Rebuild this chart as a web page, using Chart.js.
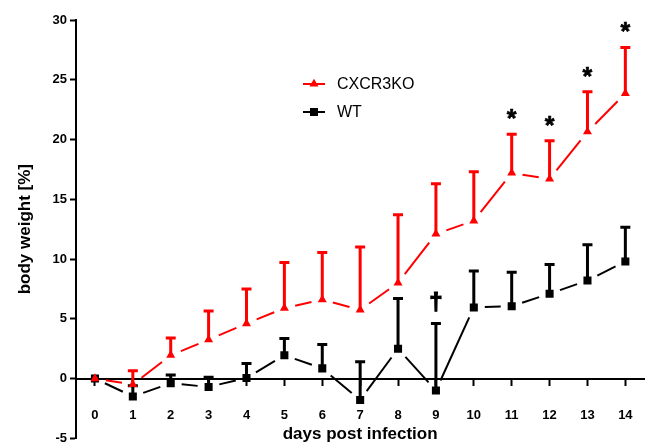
<!DOCTYPE html>
<html>
<head>
<meta charset="utf-8">
<script src="https://cdn.jsdelivr.net/npm/chart.js@4.4.1/dist/chart.umd.min.js"></script>
<style>
html,body{margin:0;padding:0;background:#fff;}
canvas{display:block;}
</style>
</head>
<body>
<canvas id="c" width="650" height="444"></canvas>
<script>
// ---- data ----
const days = [0,1,2,3,4,5,6,7,8,9,10,11,12,13,14];
const koMean = [0, -0.5, 1.95, 3.25, 4.6, 5.9, 6.6, 5.75, 8.0, 12.1, 13.2, 17.2, 16.7, 20.65, 23.85];
const koSem  = [0, 1.15, 1.45, 2.4, 2.9, 3.8, 3.95, 5.25, 5.7, 4.2, 4.1, 3.25, 3.2, 3.35, 3.85];
const wtMean = [0, -1.5, -0.4, -0.7, 0.05, 1.95, 0.85, -1.8, 2.5, -1.0, 5.95, 6.05, 7.1, 8.2, 9.8];
const wtSem  = [0, 0.9, 0.7, 0.8, 1.2, 1.4, 2.0, 3.2, 4.2, 5.6, 3.05, 2.85, 2.45, 3.0, 2.85];
const yTicks = [-5, 0, 5, 10, 15, 20, 25, 30];
const koStarDays = [11, 12, 13, 14];   // '*'
const wtDaggerDays = [9];              // '†'
const seriesNames = ['CXCR3KO', 'WT'];

const FONT = "'Liberation Sans', Arial, Helvetica, sans-serif";
const RED = '#ff0000', BLACK = '#000000';

function toPoints(mean) { return days.map((d, i) => ({x: d, y: mean[i]})); }

function drawMarker(ctx, style, color, x, y, r) {
  ctx.fillStyle = color;
  ctx.beginPath();
  if (style === 'triangle') {
    ctx.moveTo(x, y - r);
    ctx.lineTo(x + r * Math.sin(2 * Math.PI / 3), y - r * Math.cos(2 * Math.PI / 3));
    ctx.lineTo(x - r * Math.sin(2 * Math.PI / 3), y - r * Math.cos(2 * Math.PI / 3));
    ctx.closePath();
  } else {
    const s = Math.SQRT1_2 * r;
    ctx.rect(x - s, y - s, 2 * s, 2 * s);
  }
  ctx.fill();
}

const seriesPlugin = {
  id: 'series',
  beforeDatasetDraw(chart, args) {
    const ds = chart.data.datasets[args.index];
    const xs = chart.scales.x, ys = chart.scales.y;
    const ctx = chart.ctx;
    const mean = ds.mean, sem = ds.sem;
    ctx.save();
    // connecting lines with gaps around markers
    ctx.strokeStyle = ds.borderColor;
    ctx.lineWidth = 2;
    ctx.lineCap = 'butt';
    const gap = 11;
    for (let i = 0; i < days.length - 1; i++) {
      const x1 = xs.getPixelForValue(days[i]), y1 = ys.getPixelForValue(mean[i]);
      const x2 = xs.getPixelForValue(days[i + 1]), y2 = ys.getPixelForValue(mean[i + 1]);
      const dx = x2 - x1, dy = y2 - y1, len = Math.hypot(dx, dy);
      if (len <= 2 * gap + 1) continue;
      const ux = dx / len, uy = dy / len;
      ctx.beginPath();
      ctx.moveTo(x1 + ux * gap, y1 + uy * gap);
      ctx.lineTo(x2 - ux * gap, y2 - uy * gap);
      ctx.stroke();
    }
    // error bars (upper only)
    ctx.lineWidth = 3;
    for (let i = 0; i < days.length; i++) {
      if (!sem[i]) continue;
      const x = xs.getPixelForValue(days[i]);
      const y0 = ys.getPixelForValue(mean[i]);
      const yt = ys.getPixelForValue(mean[i] + sem[i]);
      ctx.beginPath();
      ctx.moveTo(x, y0);
      ctx.lineTo(x, yt);
      ctx.moveTo(x - 5, yt);
      ctx.lineTo(x + 5, yt);
      ctx.stroke();
    }
    ctx.restore();
  },
  afterDatasetsDraw(chart) {
    const xs = chart.scales.x, ys = chart.scales.y;
    const ctx = chart.ctx;
    ctx.save();
    ctx.fillStyle = BLACK;
    ctx.strokeStyle = BLACK;
    ctx.textAlign = 'center';
    ctx.textBaseline = 'alphabetic';
    ctx.font = 'bold 25px ' + FONT;
    ctx.lineWidth = 0.6;
    koStarDays.forEach(d => {
      const i = days.indexOf(d);
      const x = xs.getPixelForValue(d);
      const y = ys.getPixelForValue(koMean[i] + koSem[i]);
      ctx.fillText('*', x, y - 7);
      ctx.strokeText('*', x, y - 7);
    });
    ctx.font = 'bold 24px ' + FONT;
    ctx.lineWidth = 1.2;
    wtDaggerDays.forEach(d => {
      const i = days.indexOf(d);
      const x = xs.getPixelForValue(d);
      const y = ys.getPixelForValue(wtMean[i] + wtSem[i]);
      ctx.fillText('\u2020', x, y - 14);
      ctx.strokeText('\u2020', x, y - 14);
    });
    // legend
    const lx = 303, ly0 = 84, step = 28;
    chart.data.datasets.forEach((ds, k) => {
      const ly = ly0 + k * step;
      ctx.strokeStyle = ds.borderColor;
      ctx.lineWidth = 2;
      ctx.beginPath();
      ctx.moveTo(lx, ly);
      ctx.lineTo(lx + 22, ly);
      ctx.stroke();
      drawMarker(ctx, ds.pointStyle, ds.backgroundColor, lx + 11, ly, ds.pointRadius);
      ctx.fillStyle = BLACK;
      ctx.font = '16px ' + FONT;
      ctx.textAlign = 'left';
      ctx.textBaseline = 'middle';
      ctx.fillText(ds.label, lx + 34, ly + 1);
    });
    ctx.restore();
  }
};

const tickFont = {family: FONT, size: 13, weight: 'bold'};
const titleFont = {family: FONT, size: 17, weight: 'bold'};

new Chart(document.getElementById('c'), {
  type: 'scatter',
  data: {
    datasets: [
      {label: seriesNames[0], data: toPoints(koMean), mean: koMean, sem: koSem,
       borderColor: RED, backgroundColor: RED, pointStyle: 'triangle', pointRadius: 5.2,
       pointBorderWidth: 0, showLine: false},
      {label: seriesNames[1], data: toPoints(wtMean), mean: wtMean, sem: wtSem,
       borderColor: BLACK, backgroundColor: BLACK, pointStyle: 'rect', pointRadius: 5.7,
       pointBorderWidth: 0, showLine: false}
    ]
  },
  options: {
    responsive: false,
    animation: false,
    devicePixelRatio: 1,
    layout: {padding: {left: 0, top: 20, right: 4, bottom: -59}},
    plugins: {legend: {display: false}, tooltip: {enabled: false}},
    scales: {
      x: {
        type: 'linear', min: -0.5, max: 14.5,
        position: {y: 0},
        afterBuildTicks: s => { s.ticks = days.map(v => ({value: v})); },
        afterFit: s => { s.height = 66; s.paddingLeft = 0; s.paddingRight = 0; },
        grid: {drawOnChartArea: false, drawTicks: true, tickLength: 6, tickWidth: 2, tickColor: BLACK},
        border: {display: true, color: BLACK, width: 2},
        ticks: {color: BLACK, font: tickFont, padding: 23, autoSkip: false, maxRotation: 0},
        title: {display: true, text: 'days post infection', color: BLACK, font: titleFont, padding: {top: 0, bottom: 0}}
      },
      y: {
        type: 'linear', min: -5, max: 30, position: 'left',
        afterBuildTicks: s => { s.ticks = yTicks.map(v => ({value: v})); },
        afterFit: s => { s.width = 76; s.paddingTop = 0; s.paddingBottom = 0; },
        grid: {drawOnChartArea: false, drawTicks: true, tickLength: 6, tickWidth: 2, tickColor: BLACK},
        border: {display: true, color: BLACK, width: 2},
        ticks: {color: BLACK, font: tickFont, padding: 3},
        title: {display: true, text: 'body weight [%]', color: BLACK, font: titleFont, padding: {top: 15, bottom: 0}}
      }
    }
  },
  plugins: [seriesPlugin]
});
</script>
</body>
</html>
